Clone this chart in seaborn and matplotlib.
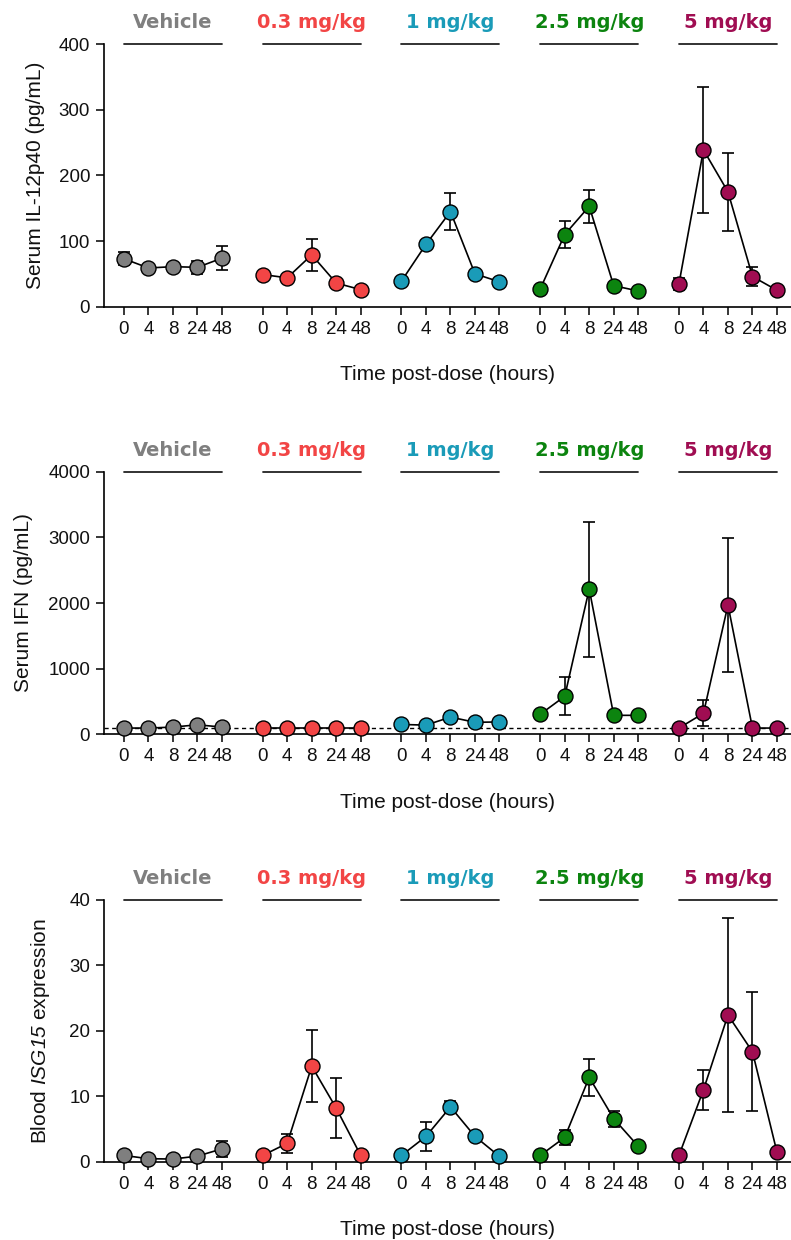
import numpy as np
import pandas as pd
import matplotlib
matplotlib.use("Agg")
import matplotlib.pyplot as plt
import seaborn as sns

# ---------------- data ----------------
groups = ["Vehicle", "0.3 mg/kg", "1 mg/kg", "2.5 mg/kg", "5 mg/kg"]
timepoints = ["0", "4", "8", "24", "48"]
group_colors = ["#7f7f7f", "#f24545", "#1a9bb8", "#0c840f", "#a00d52"]

il12_mean = [
    [73, 59, 61, 60, 74],
    [49, 44, 79, 36, 26],
    [39, 95, 145, 50, 38],
    [27, 110, 153, 32, 24],
    [35, 239, 175, 46, 25],
]
il12_err = [
    [10, 4, 4, 10, 18],
    [4, 3, 24, 4, 3],
    [3, 5, 28, 5, 3],
    [3, 21, 25, 3, 3],
    [9, 96, 59, 14, 3],
]

ifn_mean = [
    [95, 95, 110, 145, 110],
    [95, 95, 95, 95, 95],
    [150, 140, 262, 183, 188],
    [305, 579, 2213, 289, 289],
    [95, 320, 1970, 95, 95],
]
ifn_err = [
    [10, 10, 15, 20, 15],
    [5, 5, 5, 5, 5],
    [15, 15, 70, 20, 20],
    [20, 292, 1028, 20, 20],
    [5, 198, 1028, 5, 5],
]
lloq_ifn = 100

isg_mean = [
    [1.0, 0.5, 0.45, 0.9, 2.0],
    [1.0, 2.85, 14.6, 8.2, 1.0],
    [1.0, 3.9, 8.4, 3.9, 0.85],
    [1.0, 3.75, 12.9, 6.6, 2.4],
    [1.0, 11.0, 22.4, 16.8, 1.5],
]
isg_err = [
    [0.1, 0.1, 0.1, 0.2, 1.2],
    [0.1, 1.45, 5.45, 4.6, 0.1],
    [0.1, 2.2, 0.9, 0.2, 0.1],
    [0.1, 1.2, 2.8, 1.2, 0.5],
    [0.1, 3.0, 14.8, 9.1, 0.2],
]

panels = [
    dict(mean=il12_mean, err=il12_err, ylim=400, yticks=[0, 100, 200, 300, 400],
         ylabel="Serum IL-12p40 (pg/mL)", lloq=None, ylab_x=-0.086),
    dict(mean=ifn_mean, err=ifn_err, ylim=4000, yticks=[0, 1000, 2000, 3000, 4000],
         ylabel="Serum IFN (pg/mL)", lloq=lloq_ifn, ylab_x=-0.103),
    dict(mean=isg_mean, err=isg_err, ylim=40, yticks=[0, 10, 20, 30, 40],
         ylabel="Blood $\\mathsf{ISG15}$ expression", lloq=None, ylab_x=-0.076),
]

# ---------------- style ----------------
sns.set_style("ticks")
plt.rcParams["font.family"] = ["Liberation Sans", "DejaVu Sans"]
plt.rcParams["mathtext.fontset"] = "custom"
plt.rcParams["mathtext.sf"] = "Liberation Sans:italic"
plt.rcParams["mathtext.it"] = "Liberation Sans:italic"
plt.rcParams["mathtext.rm"] = "Liberation Sans"

W, H = 791, 1240
fig = plt.figure(figsize=(W / 100, H / 100), dpi=100)

pitch = 5.663
left_px, width_px = 104, 687
axes_bottoms_px = [306.7, 734.3, 1162.0]
axes_h_px = 262.5

for p, bottom_px in zip(panels, axes_bottoms_px):
    ax = fig.add_axes([left_px / W, 1 - bottom_px / H, width_px / W, axes_h_px / H])
    rows = []
    for k, g in enumerate(groups):
        for i, t in enumerate(timepoints):
            rows.append(dict(group=g, x=i + k * pitch, t=t,
                             mean=p["mean"][k][i], err=p["err"][k][i]))
    df = pd.DataFrame(rows)

    if p["lloq"] is not None:
        ax.axhline(p["lloq"], color="black", lw=1.0, ls=(0, (3, 2.5)), zorder=1)

    for k, g in enumerate(groups):
        sub = df[df.group == g]
        ax.errorbar(sub.x, sub["mean"], yerr=sub.err, fmt="none", ecolor="black",
                    elinewidth=1.2, capsize=4.6, capthick=1.2, zorder=2, clip_on=False)
        sns.lineplot(data=sub, x="x", y="mean", ax=ax, color="black", lw=1.2,
                     marker="o", markersize=10.8, markerfacecolor=group_colors[k],
                     markeredgecolor="black", markeredgewidth=1.0,
                     zorder=3, clip_on=False, legend=False)
        x0, x1 = sub.x.min(), sub.x.max()
        ax.plot([x0, x1], [p["ylim"], p["ylim"]], color="#222222", lw=1.3,
                clip_on=False, zorder=3)
        ax.annotate(g, xy=((x0 + x1) / 2, p["ylim"]), xytext=(0, 11.5),
                    textcoords="offset points", ha="center", va="baseline",
                    fontsize=14, fontweight="bold", color=group_colors[k],
                    family="DejaVu Sans", annotation_clip=False)

    ax.set_xlim(-0.816, -0.816 + width_px / 24.5)
    ax.set_ylim(0, p["ylim"])
    ax.set_xticks(df.x)
    ax.set_xticklabels(df.t)
    ax.set_yticks(p["yticks"])
    ax.tick_params(axis="both", labelsize=13.5, length=6, width=1.1, color="black",
                   labelcolor="#111111", direction="out", pad=4)
    sns.despine(ax=ax)
    for s in ["left", "bottom"]:
        ax.spines[s].set_linewidth(1.2)
        ax.spines[s].set_color("black")
    ax.set_ylabel(p["ylabel"], fontsize=15, color="#111111")
    ax.yaxis.set_label_coords(p["ylab_x"], 0.5)
    ax.set_xlabel("Time post-dose (hours)", fontsize=15, color="#111111")
    ax.xaxis.set_label_coords(0.5, -0.222)
    ax.set_facecolor("white")

fig.savefig("out.png", dpi=100, facecolor="white")
